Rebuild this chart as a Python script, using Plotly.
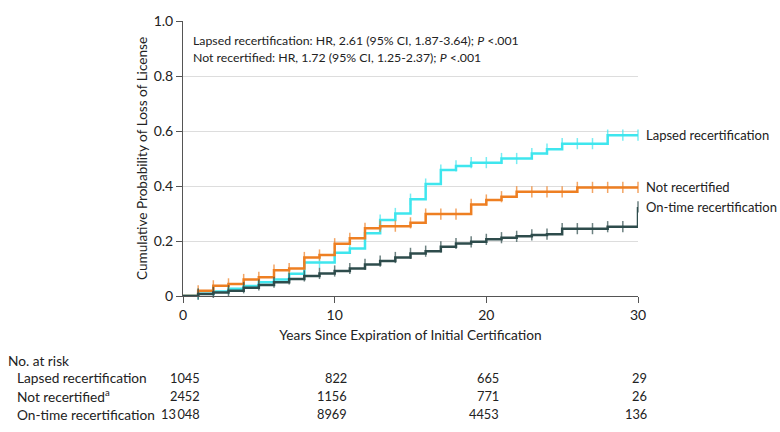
import plotly.graph_objects as go

years = list(range(0, 31))

lapsed = [0, 0.008, 0.016, 0.026, 0.036, 0.05, 0.06, 0.081, 0.122, 0.122, 0.157,
          0.173, 0.228, 0.276, 0.30, 0.352, 0.407, 0.458, 0.473, 0.485, 0.485,
          0.50, 0.50, 0.518, 0.534, 0.554, 0.554, 0.554, 0.585, 0.585, 0.585]
not_recert = [0, 0.019, 0.037, 0.044, 0.06, 0.068, 0.094, 0.10, 0.14, 0.149, 0.19,
              0.21, 0.246, 0.254, 0.254, 0.266, 0.298, 0.298, 0.298, 0.333, 0.349,
              0.361, 0.379, 0.379, 0.379, 0.379, 0.395, 0.395, 0.395, 0.395, 0.395]
on_time = [0, 0.007, 0.013, 0.019, 0.03, 0.04, 0.05, 0.062, 0.073, 0.082, 0.091,
           0.10, 0.115, 0.127, 0.14, 0.155, 0.163, 0.179, 0.191, 0.197, 0.206,
           0.212, 0.217, 0.222, 0.225, 0.245, 0.245, 0.245, 0.252, 0.252, 0.324]

series_names = ["Lapsed recertification", "Not recertified", "On-time recertification"]
series_values = [lapsed, not_recert, on_time]
colors = ["#3FE6EE", "#EE7F22", "#2E4C4C"]

risk_times = [0, 10, 20, 30]
risk_labels = ["Lapsed recertification", "Not recertified<sup>a</sup>", "On-time recertification"]
risk_counts = [
    ["1045", "822", "665", "29"],
    ["2452", "1156", "771", "26"],
    ["13\u2009048", "8969", "4453", "136"],
]

x_ticks = [0, 10, 20, 30]
y_ticks = [0, 0.2, 0.4, 0.6, 0.8, 1.0]
y_ticktext = ["0", "0.2", "0.4", "0.6", "0.8", "1.0"]

FONT = "Lato"
W, H = 780, 432
L, R, T, B = 183, 142, 21, 136
pw, ph = W - L - R, H - T - B


def px_x(v):
    return (v - L) / pw


def px_y(v):
    return (H - B - v) / ph


fig = go.Figure()

for name, vals, c in zip(series_names, series_values, colors):
    fig.add_trace(go.Scatter(
        x=years, y=vals, mode="lines+markers", name=name,
        line=dict(color=c, width=2.5, shape="hv"),
        marker=dict(symbol="line-ns-open", size=[0] + [8] * (len(years) - 1),
                    line=dict(width=1.5, color=c)),
        cliponaxis=False, showlegend=False,
    ))

# end-of-curve labels
for name, vals in zip(series_names, series_values):
    fig.add_annotation(x=years[-1], y=vals[-1], xref="x", yref="y", text=name,
                       showarrow=False, xanchor="left", xshift=6,
                       font=dict(family=FONT, size=13, color="#222"))

# HR text
hr_lines = ["Lapsed recertification: HR, 2.61 (95% CI, 1.87-3.64); <i>P</i> <.001",
            "Not recertified: HR, 1.72 (95% CI, 1.25-2.37); <i>P</i> <.001"]
for line_text, py in zip(hr_lines, [40, 58]):
    fig.add_annotation(x=px_x(191), y=px_y(py), xref="paper", yref="paper",
                       xanchor="left", yanchor="middle", align="left", showarrow=False,
                       text=line_text, font=dict(family=FONT, size=12.3, color="#222"))

# Number at risk table
fig.add_annotation(x=px_x(6), y=px_y(360.5), xref="paper", yref="paper", text="No. at risk",
                   showarrow=False, xanchor="left", yanchor="middle",
                   font=dict(family=FONT, size=13.7, color="#222"))
row_y = [377.5, 396, 414]
shifts = [19, 14, 15, 11]
for lab, counts, ry in zip(risk_labels, risk_counts, row_y):
    fig.add_annotation(x=px_x(15), y=px_y(ry), xref="paper", yref="paper", text=lab,
                       showarrow=False, xanchor="left", yanchor="middle",
                       font=dict(family=FONT, size=13.7, color="#222"))
    for t, cnt, sh in zip(risk_times, counts, shifts):
        fig.add_annotation(x=t, y=px_y(ry), xref="x", yref="paper", text=cnt,
                           showarrow=False, xanchor="right", yanchor="middle", xshift=sh,
                           font=dict(family=FONT, size=12.8, color="#222"))

fig.update_layout(
    width=W, height=H,
    margin=dict(l=L, r=R, t=T, b=B, autoexpand=False),
    paper_bgcolor="white", plot_bgcolor="white",
    font=dict(family=FONT, size=13, color="#222"),
    xaxis=dict(range=[0, 30], tickvals=x_ticks, showgrid=False, zeroline=False,
               showline=True, linecolor="#555", linewidth=1, ticks="outside",
               ticklen=6, tickcolor="#555", automargin=False,
               tickfont=dict(size=14),
               title=dict(text="Years Since Expiration of Initial Certification",
                          font=dict(family=FONT, size=13.7), standoff=8)),
    yaxis=dict(range=[0, 1], tickvals=y_ticks, ticktext=y_ticktext, showgrid=True,
               gridcolor="#dddddd", gridwidth=1, zeroline=False,
               showline=True, linecolor="#555", linewidth=1, ticks="outside",
               ticklen=6, tickcolor="#555", automargin=False,
               tickfont=dict(size=14),
               title=dict(text="Cumulative Probability of Loss of License",
                          font=dict(family=FONT, size=13.6), standoff=2)),
)

fig.write_html("out.html", config={"displayModeBar": False},
               post_script="document.body.style.margin='0';document.body.style.overflow='hidden';")
